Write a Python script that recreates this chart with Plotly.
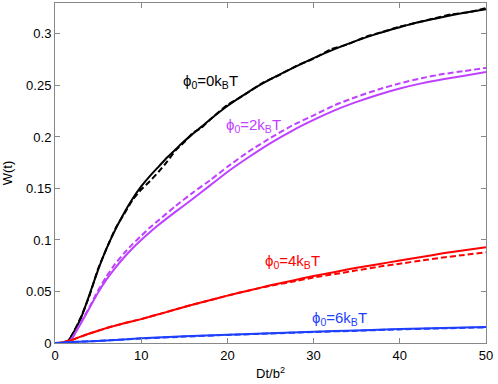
import plotly.graph_objects as go

# --- data ---
# phi0 = 0 kBT
x_phi0 = [0, 1, 1.5, 2, 3, 4, 5, 6, 7, 8, 9, 10, 11, 12, 13, 14, 15, 16, 17, 18, 20, 22.5, 25, 27.5, 30, 32.5, 35, 37.5,
          40, 42.5, 45, 47.5, 50]
w_phi0 = [0, 0, 0.002, 0.008, 0.024, 0.047, 0.071, 0.092, 0.110, 0.126, 0.140, 0.152, 0.162, 0.171, 0.180, 0.188, 0.196,
          0.203, 0.210, 0.217, 0.230, 0.244, 0.256, 0.2665, 0.2765, 0.2855, 0.2935, 0.3005, 0.3065, 0.312, 0.3165,
          0.3205, 0.324]

x_phi0_sim = [0, 1, 1.5, 2, 3, 4, 5, 6, 7, 8, 9, 10, 11, 12, 13, 14, 15, 16, 17, 18, 20, 22, 24, 26, 28, 30, 32, 34, 36,
              38, 40, 42, 44, 46, 48, 50]
w_phi0_sim = [0, 0, 0.002, 0.008, 0.025, 0.046, 0.072, 0.092, 0.111, 0.125, 0.139, 0.149, 0.157, 0.166, 0.176, 0.187, 0.195,
              0.204, 0.209, 0.217, 0.231, 0.241, 0.252, 0.260, 0.269, 0.276, 0.285, 0.290, 0.297, 0.302, 0.307, 0.311,
              0.315, 0.319, 0.321, 0.325]

# phi0 = 2 kBT
x_phi2 = [0, 1, 1.5, 2, 3, 4, 5, 6, 7, 8, 9, 10, 11, 12, 14, 16, 18, 20, 22.5, 25, 27.5, 30, 32.5, 35, 37.5, 40, 42.5,
          45, 47.5, 50]
w_phi2 = [0, 0, 0.001, 0.005, 0.019, 0.034, 0.049, 0.062, 0.073, 0.083, 0.092, 0.100, 0.1075, 0.1145, 0.1275, 0.140,
          0.153, 0.166, 0.1805, 0.194, 0.206, 0.2165, 0.226, 0.234, 0.241, 0.247, 0.252, 0.256, 0.2595, 0.263]
w_phi2_sim = [0, 0, 0.001, 0.005, 0.020, 0.035, 0.051, 0.065, 0.077, 0.087, 0.096, 0.104, 0.112, 0.119, 0.133, 0.146,
              0.158, 0.171, 0.186, 0.199, 0.211, 0.221, 0.231, 0.239, 0.246, 0.252, 0.257, 0.261, 0.264, 0.267]

# phi0 = 4 kBT
x_phi4 = [0, 0.5, 1, 2, 3, 4, 5, 6, 7, 8, 9, 10, 12.5, 15, 17.5, 20, 22.5, 25, 27.5, 30, 32.5, 35, 37.5, 40, 42.5, 45,
          47.5, 50]
w_phi4 = [0, 0, 0.001, 0.003, 0.0062, 0.0092, 0.0119, 0.0145, 0.0169, 0.0191, 0.0212, 0.0232, 0.029, 0.035, 0.0405,
          0.046, 0.051, 0.056, 0.0605, 0.065, 0.069, 0.073, 0.0765, 0.080, 0.0835, 0.087, 0.090, 0.093]
w_phi4_sim = [0, 0, 0.001, 0.003, 0.0062, 0.0092, 0.0119, 0.0145, 0.0169, 0.0191, 0.0212, 0.0232, 0.029, 0.035, 0.0405,
              0.046, 0.051, 0.0555, 0.0595, 0.0635, 0.067, 0.0705, 0.074, 0.077, 0.080, 0.083, 0.0855, 0.088]

# phi0 = 6 kBT
x_phi6 = [0, 2, 5, 10, 15, 20, 25, 30, 35, 40, 45, 50]
w_phi6 = [0, 0.001, 0.002, 0.0045, 0.0065, 0.008, 0.0095, 0.011, 0.0122, 0.0135, 0.0145, 0.0155]
w_phi6_sim = [0, 0.001, 0.002, 0.0043, 0.0062, 0.0078, 0.0092, 0.0107, 0.0119, 0.0132, 0.0142, 0.0152]

labels = ['ϕ<sub>0</sub>=0k<sub>B</sub>T', 'ϕ<sub>0</sub>=2k<sub>B</sub>T',
          'ϕ<sub>0</sub>=4k<sub>B</sub>T', 'ϕ<sub>0</sub>=6k<sub>B</sub>T']
label_x = [18.0, 23.0, 27.5, 33.0]
label_y = [0.254, 0.211, 0.079, 0.024]
colors = ['#000000', '#bf40ff', '#ff0000', '#1f3fff']

fig = go.Figure()

series = [
    (x_phi0, w_phi0, x_phi0_sim, w_phi0_sim),
    (x_phi2, w_phi2, x_phi2, w_phi2_sim),
    (x_phi4, w_phi4, x_phi4, w_phi4_sim),
    (x_phi6, w_phi6, x_phi6, w_phi6_sim),
]

for (xs, ys, xd, yd), c in zip(series, colors):
    # dashed = simulation, solid = theory
    fig.add_trace(go.Scatter(x=xd, y=yd, mode='lines',
                             line=dict(color=c, width=2, dash='6px,3px', shape='spline', smoothing=0.5),
                             showlegend=False))
    fig.add_trace(go.Scatter(x=xs, y=ys, mode='lines',
                             line=dict(color=c, width=2, shape='spline', smoothing=0.5),
                             showlegend=False))

for txt, lx, ly, c in zip(labels, label_x, label_y, colors):
    fig.add_annotation(x=lx, y=ly, text=txt, showarrow=False,
                       font=dict(color=c, size=15))

axis_common = dict(
    showline=True, mirror='ticks', linecolor='#888888', linewidth=1,
    ticks='inside', ticklen=5, tickcolor='#888888',
    showgrid=False, zeroline=False,
    tickfont=dict(size=13, color='black'),
)

fig.update_xaxes(range=[0, 50], tickvals=[0, 10, 20, 30, 40, 50],
                 title=dict(text='Dt/b<sup>2</sup>', font=dict(size=13), standoff=7), **axis_common)
fig.update_yaxes(range=[0, 0.33], tickvals=[0, 0.05, 0.1, 0.15, 0.2, 0.25, 0.3],
                 ticktext=['0', '0.05', '0.1', '0.15', '0.2', '0.25', '0.3'],
                 title=dict(text='W(t)', font=dict(size=13), standoff=13), **axis_common)

fig.update_layout(
    width=498, height=384,
    margin=dict(l=55, r=12, t=3, b=41),
    plot_bgcolor='white', paper_bgcolor='white',
    font=dict(family='Liberation Sans, Arial, sans-serif', color='black'),
)

fig.write_html("out.html", config={'displayModeBar': False},
               post_script="document.body.style.margin='0';")
